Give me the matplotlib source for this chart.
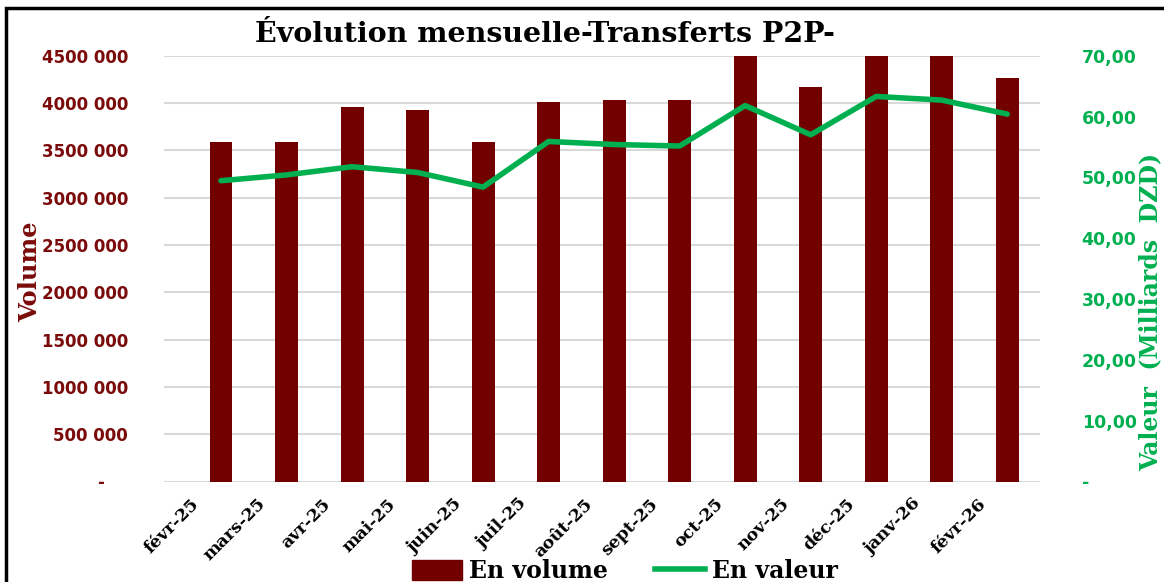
import matplotlib
matplotlib.use("Agg")
import matplotlib.pyplot as plt
from matplotlib.patches import Rectangle, Patch
from matplotlib.lines import Line2D
from matplotlib.transforms import ScaledTranslation

months = ["févr-25", "mars-25", "avr-25", "mai-25", "juin-25", "juil-25", "août-25",
          "sept-25", "oct-25", "nov-25", "déc-25", "janv-26", "févr-26"]
volume = [3592000, 3590000, 3956000, 3927000, 3590000, 4015000, 4030000,
          4030000, 4600000, 4170000, 4600000, 4600000, 4260000]
valeur = [49.45, 50.4, 51.75, 50.8, 48.4, 55.9, 55.4, 55.15, 61.8, 57.0, 63.3, 62.7, 60.4]

left_ticks = [0, 500000, 1000000, 1500000, 2000000, 2500000, 3000000, 3500000, 4000000, 4500000]
left_labels = ["-    ", "500 000", "1000 000", "1500 000", "2000 000", "2500 000",
               "3000 000", "3500 000", "4000 000", "4500 000"]
right_ticks = [0, 10, 20, 30, 40, 50, 60, 70]
right_labels = ["-", "10,00", "20,00", "30,00", "40,00", "50,00", "60,00", "70,00"]

BAR = "#730000"
GREEN = "#00B050"
LBL = "#7B0B0B"

fig = plt.figure(figsize=(11.64, 5.82), dpi=100)
ax = fig.add_axes([164/1164, 1-481.5/582, (1040-164)/1164, (481.5-55.7)/582])
x = list(range(len(months)))
ax.bar(x, volume, width=0.35, color=BAR, zorder=2)
ax.set_ylim(0, 4500000)
ax.set_xlim(-0.87, 12.5)
ax.set_yticks(left_ticks)
ax.set_yticklabels(left_labels, fontfamily="DejaVu Sans", fontweight="bold", fontsize=12, color=LBL)
ax.tick_params(axis="y", length=0, pad=26)
ax.grid(axis="y", color="#D9D9D9", linewidth=1.5, zorder=0)
ax.set_axisbelow(True)
ax.set_xticks(x)
ax.set_xticklabels(months, rotation=45, ha="right", rotation_mode="anchor",
                   fontfamily="DejaVu Serif", fontweight="heavy", fontsize=12.5, color="black")
ax.tick_params(axis="x", length=0, pad=10)
off = ScaledTranslation(-30/100, 0, fig.dpi_scale_trans)
for lab in ax.get_xticklabels():
    lab.set_transform(lab.get_transform() + off)
for s in ax.spines.values():
    s.set_visible(False)

ax2 = ax.twinx()
ax2.plot(x, valeur, color=GREEN, linewidth=4, solid_capstyle="round", zorder=3)
ax2.set_ylim(0, 70)
ax2.set_yticks(right_ticks)
ax2.set_yticklabels(right_labels, fontfamily="DejaVu Sans", fontweight="bold", fontsize=12.5, color=GREEN)
ax2.tick_params(axis="y", length=0, pad=30)
for s in ax2.spines.values():
    s.set_visible(False)

fig.text(30/1164, 1-272/582, "Volume", rotation=90, ha="center", va="center",
         fontfamily="DejaVu Serif", fontweight="bold", fontsize=17.5, color=LBL)
fig.text(1150/1164, 1-312/582, "Valeur  (Milliards  DZD)", rotation=90, ha="center", va="center",
         fontfamily="DejaVu Serif", fontweight="bold", fontsize=17, color=GREEN)
fig.text(545/1164, 1-34/582, "Évolution mensuelle-Transferts P2P-", ha="center", va="center",
         fontfamily="DejaVu Serif", fontweight="bold", fontsize=20.5, color="black")

handles = [Patch(facecolor=BAR, edgecolor=BAR), Line2D([0], [0], color=GREEN, linewidth=4)]
fig.legend(handles, ["En volume", "En valeur"], loc="center", bbox_to_anchor=(625/1164, 1-571/582),
           ncol=2, frameon=False, prop={"family": "DejaVu Serif", "weight": "bold", "size": 17},
           handlelength=2.1, handleheight=0.9, columnspacing=2.0, handletextpad=0.3)

fig.patches.append(Rectangle((6/1164, -0.05), 1.1, 1-8/582+0.05, transform=fig.transFigure,
                             fill=False, edgecolor="black", linewidth=2.5))

fig.savefig("out.png", dpi=100)
